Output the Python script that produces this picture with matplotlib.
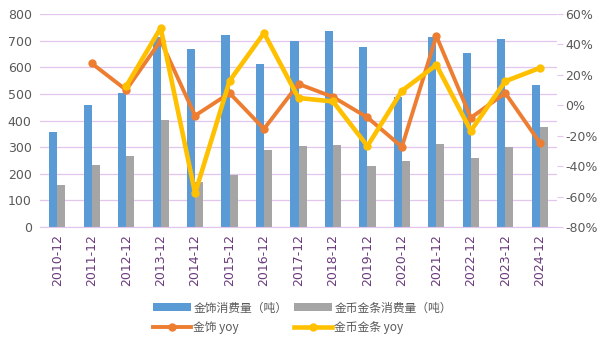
import numpy as np
import matplotlib
matplotlib.use("Agg")
from matplotlib import pyplot as plt
from matplotlib.ticker import FuncFormatter

years = ["2010-12", "2011-12", "2012-12", "2013-12", "2014-12", "2015-12", "2016-12", "2017-12",
         "2018-12", "2019-12", "2020-12", "2021-12", "2022-12", "2023-12", "2024-12"]
jewelry = [356, 459, 504, 712, 669, 721, 612, 700, 736, 676, 490, 714, 654, 706, 534]
bar_coin = [159, 234, 267, 402, 170, 196, 290, 305, 309, 228, 249, 312, 260, 301, 374]
jewelry_yoy = [np.nan, 27.6, 10.1, 42.5, -6.8, 8.0, -15.5, 14.0, 5.5, -8.0, -27.3, 45.5, -8.2, 8.0, -24.5]
bar_coin_yoy = [np.nan, np.nan, 12.5, 50.8, -57.8, 16.0, 47.5, 4.8, 2.5, -26.8, 9.5, 26.5, -16.8, 15.8, 24.5]

names = ["金饰消费量（吨）", "金币金条消费量（吨）", "金饰 yoy", "金币金条 yoy"]

plt.rcParams['font.family'] = ['DejaVu Sans', 'Noto Sans CJK SC']

fig = plt.figure(figsize=(6.05, 3.4), dpi=100)
ax = fig.add_axes([40 / 605, 1 - 227 / 340, 517 / 605, 213 / 340])
x = np.arange(len(years))
w = 0.235

b1 = ax.bar(x - w / 2, jewelry, w, color="#5B9BD5", zorder=2)
b2 = ax.bar(x + w / 2, bar_coin, w, color="#A5A5A5", zorder=2)
ax.set_ylim(0, 800)
ax.set_yticks(range(0, 801, 100))
ax.set_xlim(-0.5, len(years) - 0.5)
ax.set_xticks(x)
ax.set_xticklabels(years, rotation=90, color="#6a3a7c", fontsize=9)
ax.grid(axis="y", color="#e3c6ee", linewidth=0.9, zorder=0)
ax.tick_params(axis="y", length=0, labelsize=9, labelcolor="#595959", pad=6)
ax.tick_params(axis="x", length=0, pad=5)
for s in ["top", "left", "right"]:
    ax.spines[s].set_visible(False)
ax.spines["bottom"].set_color("#e3c6ee")

ax2 = ax.twinx()
l1, = ax2.plot(x, jewelry_yoy, color="#ED7D31", linewidth=2.8, marker="o", markersize=5, zorder=3)
l2, = ax2.plot(x, bar_coin_yoy, color="#FFC000", linewidth=3.3, marker="o", markersize=5, zorder=4)
ax2.set_ylim(-80, 60)
ax2.set_yticks(range(-80, 61, 20))
ax2.yaxis.set_major_formatter(FuncFormatter(lambda v, p: "%d%%" % v))
ax2.tick_params(axis="y", length=4, color="#e3c6ee", labelsize=9, labelcolor="#595959", pad=2)
for s in ax2.spines.values():
    s.set_visible(False)

leg = fig.legend([b1, l1, b2, l2], [names[0], names[2], names[1], names[3]],
                 ncol=2, loc="lower center", bbox_to_anchor=(0.5, -0.015), frameon=False,
                 prop={"family": ["Noto Sans CJK SC", "DejaVu Sans"], "size": 8.5},
                 handlelength=3.2, handletextpad=0.2, columnspacing=0.6, labelspacing=0.6,
                 labelcolor="#595959")

fig.savefig("out.png", dpi=100)
